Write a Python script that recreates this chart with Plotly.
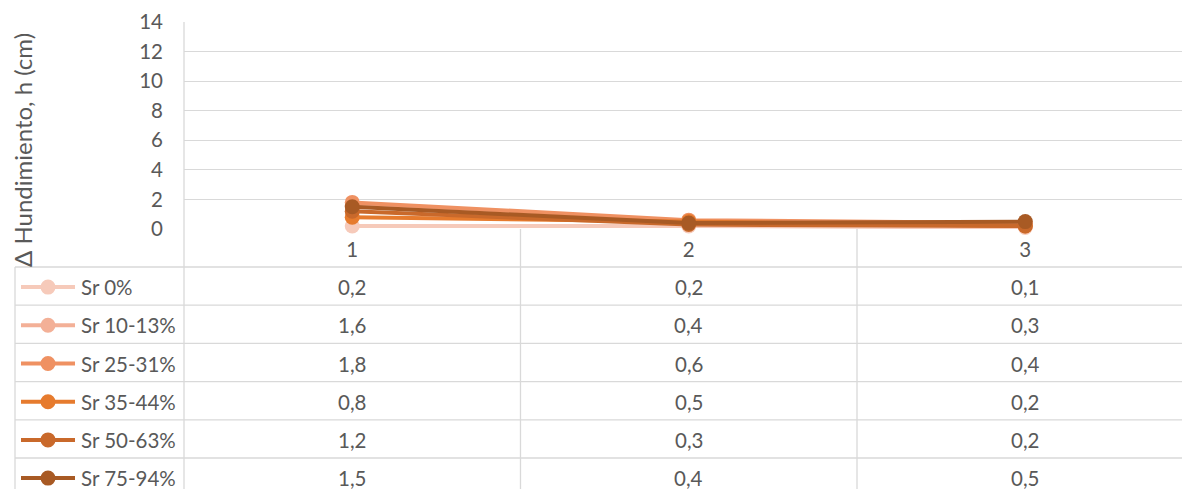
import plotly.graph_objects as go

# Settlement increments per stage for each degree of saturation
stages = ["1", "2", "3"]
series_names = ["Sr 0%", "Sr 10-13%", "Sr 25-31%", "Sr 35-44%", "Sr 50-63%", "Sr 75-94%"]
sr_0 = [0.2, 0.2, 0.1]
sr_10_13 = [1.6, 0.4, 0.3]
sr_25_31 = [1.8, 0.6, 0.4]
sr_35_44 = [0.8, 0.5, 0.2]
sr_50_63 = [1.2, 0.3, 0.2]
sr_75_94 = [1.5, 0.4, 0.5]
y_ticks = [0, 2, 4, 6, 8, 10, 12, 14]

series_values = [sr_0, sr_10_13, sr_25_31, sr_35_44, sr_50_63, sr_75_94]
colors = ["#F6CABA", "#F3B097", "#EF9162", "#E67B2E", "#C9692B", "#A85A24"]

W, H = 1182, 489
FONT = "Lato, Carlito, Calibri, sans-serif"
TXT = "#595959"
GRID = "#D9D9D9"
FS = 20.5        # table, legend and tick text
FS_TITLE = 24    # axis title
LW = 4           # series line width
MS = 15          # marker diameter


def px(x):
    return x / W


def py(y):
    return 1 - y / H


plot_left, plot_top, plot_zero = 184, 22, 229
band = 336.5
row_top, row_h = 267, 38.2
legend_left = 15

fig = go.Figure()
for name, vals, col in zip(series_names, series_values, colors):
    fig.add_trace(go.Scatter(
        x=list(range(len(stages))), y=vals, name=name, mode="lines+markers",
        line=dict(color=col, width=LW),
        marker=dict(color=col, size=MS),
        showlegend=False, cliponaxis=False,
    ))

n_bands = (W - plot_left) / band
fig.update_xaxes(
    domain=[px(plot_left), 1], range=[-0.5, -0.5 + n_bands],
    tickvals=list(range(len(stages))), ticktext=stages,
    showgrid=False, zeroline=False, showline=False, ticks="",
    tickfont=dict(family=FONT, size=FS, color=TXT), ticklabelstandoff=6,
    anchor="y", automargin=False,
)
fig.update_yaxes(
    domain=[py(plot_zero), py(plot_top)], range=[0, 14], tickvals=y_ticks,
    showgrid=True, gridcolor=GRID, gridwidth=1.3, zeroline=False, showline=False,
    tickfont=dict(family=FONT, size=FS, color=TXT), ticklabelstandoff=20,
    title=None, automargin=False,
)

shapes = []
annotations = []
line_style = dict(color=GRID, width=1.3)

# plot-area left border running down through the data table
shapes.append(dict(type="line", xref="paper", yref="paper",
                   x0=px(plot_left), x1=px(plot_left), y0=py(plot_top), y1=0, line=line_style))
# column separators of the data table
for i in range(1, len(stages)):
    shapes.append(dict(type="line", xref="x", yref="paper",
                       x0=i - 0.5, x1=i - 0.5, y0=py(plot_zero), y1=0, line=line_style))
# legend column left border
shapes.append(dict(type="line", xref="paper", yref="paper",
                   x0=px(legend_left), x1=px(legend_left), y0=py(row_top), y1=0, line=line_style))

for r, (name, vals, col) in enumerate(zip(series_names, series_values, colors)):
    y_line = row_top + r * row_h
    y_mid = y_line + row_h / 2 + 1
    shapes.append(dict(type="line", xref="paper", yref="paper",
                       x0=px(legend_left), x1=1, y0=py(y_line), y1=py(y_line), line=line_style))
    # legend key: line with marker
    shapes.append(dict(type="line", xref="paper", yref="paper",
                       x0=px(21), x1=px(75), y0=py(y_mid), y1=py(y_mid),
                       line=dict(color=col, width=LW)))
    shapes.append(dict(type="circle", xref="paper", yref="paper",
                       x0=px(48 - MS / 2), x1=px(48 + MS / 2),
                       y0=py(y_mid - MS / 2), y1=py(y_mid + MS / 2),
                       fillcolor=col, line=dict(color=col, width=0)))
    annotations.append(dict(xref="paper", yref="paper", x=px(79), y=py(y_mid),
                            text=name, showarrow=False, xanchor="left", yanchor="middle",
                            font=dict(family=FONT, size=FS, color=TXT)))
    for c, v in enumerate(vals):
        annotations.append(dict(xref="x", yref="paper", x=c, y=py(y_mid),
                                text=f"{v:.1f}".replace(".", ","), showarrow=False,
                                xanchor="center", yanchor="middle",
                                font=dict(family=FONT, size=FS, color=TXT)))

# vertical axis title
annotations.append(dict(xref="paper", yref="paper", x=px(22), y=py(150),
                        text="Δ Hundimiento, h (cm)", textangle=-90, showarrow=False,
                        xanchor="center", yanchor="middle",
                        font=dict(family=FONT, size=FS_TITLE, color=TXT)))

fig.update_layout(
    width=W, height=H, margin=dict(l=0, r=0, t=0, b=0, pad=0),
    paper_bgcolor="white", plot_bgcolor="white",
    shapes=shapes, annotations=annotations, showlegend=False,
)

fig.write_html("out.html", post_script="document.body.style.margin='0';")
